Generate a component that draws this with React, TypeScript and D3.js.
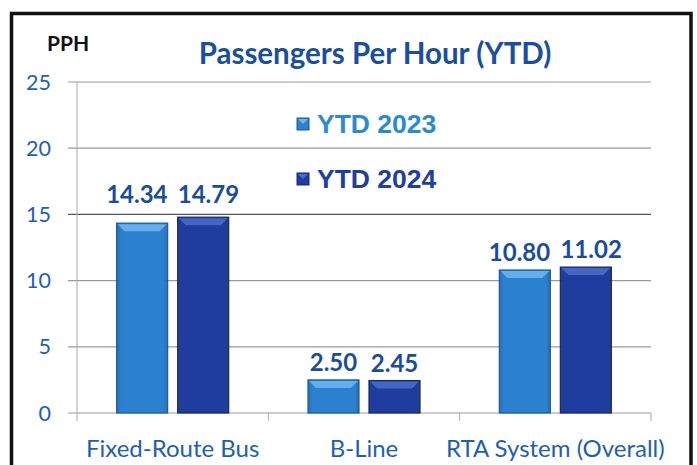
import React from "react";
import * as d3 from "d3";

const categories = ["Fixed-Route Bus", "B-Line", "RTA System (Overall)"];
const seriesNames = ["YTD 2023", "YTD 2024"];
const ytd2023 = [14.34, 2.5, 10.8];
const ytd2024 = [14.79, 2.45, 11.02];
const yTicks = [0, 5, 10, 15, 20, 25];

const W = 697;
const H = 465;
const FONT = "Lato, 'Open Sans', sans-serif";
const seriesColors = ["#2b80d0", "#1e3d9e"];
const seriesLight = ["#6fb6ee", "#4a6fc8"];
const seriesDark = ["#1a5c9f", "#122a72"];
const legendText = ["#2a8ad4", "#1f3ea0"];
const LABEL_SIZE = 24;

export default function App() {
  const y = d3.scaleLinear().domain([0, 25]).range([413, 82]);
  const x0 = d3.scaleBand<string>().domain(categories).range([77, 651]);
  const x1 = d3
    .scaleBand<string>()
    .domain(seriesNames)
    .range([0, x0.bandwidth()])
    .paddingInner(0.164)
    .paddingOuter(0.65);

  const series = [ytd2023, ytd2024];
  const gridVals = yTicks.filter((t) => t > 0);

  const labelBaseline = (v: number) => {
    const top = y(v);
    let b = top - 9;
    for (const g of gridVals) {
      const gy = y(g);
      if (gy > b - 18 && gy < top) b = gy - 11;
    }
    return b;
  };

  // push apart value labels that would touch within a group
  const labelShift = (ci: number, si: number) => {
    const step = x1.step();
    const widths = series.map((s) => s[ci].toFixed(2).length * LABEL_SIZE * 0.48);
    const need = (widths[0] + widths[1]) / 2 + 14;
    const extra = Math.max(0, need - step) / 2;
    return si === 0 ? -extra : extra;
  };

  return (
    <svg
      width={W}
      height={H}
      style={{ position: "fixed", left: 0, top: 0, background: "#fff" }}
    >
      <defs>
        {seriesColors.map((c, i) => (
          <linearGradient key={i} id={`g${i}`} x1="0" x2="1" y1="0" y2="0">
            <stop offset="0" stopColor={seriesDark[i]} stopOpacity={0.9} />
            <stop offset="0.08" stopColor={c} />
            <stop offset="0.92" stopColor={c} />
            <stop offset="1" stopColor={seriesDark[i]} stopOpacity={0.9} />
          </linearGradient>
        ))}
      </defs>
      <rect x={0} y={0} width={W} height={H} fill="#fff" />
      {/* frame */}
      <path
        d={`M11.5,${H} V13.5 H691 V${H}`}
        fill="none"
        stroke="#111"
        strokeWidth={3.5}
      />

      {/* gridlines */}
      {gridVals.map((t) => (
        <line
          key={t}
          x1={68}
          x2={651}
          y1={y(t)}
          y2={y(t)}
          stroke={t === 15 ? "#555" : "#9a9a9a"}
          strokeWidth={1.2}
        />
      ))}
      {/* axes */}
      <line x1={77} x2={77} y1={y(25)} y2={y(0)} stroke="#aaa" strokeWidth={1} />
      <line x1={68} x2={651} y1={y(0)} y2={y(0)} stroke="#999" strokeWidth={1.2} />
      {categories.map((c) => (
        <line
          key={c}
          x1={x0(c) as number}
          x2={x0(c) as number}
          y1={y(0)}
          y2={y(0) + 8}
          stroke="#aaa"
        />
      ))}
      <line x1={651} x2={651} y1={y(0)} y2={y(0) + 8} stroke="#aaa" />

      {yTicks.map((t) => (
        <text
          key={t}
          x={51}
          y={y(t) + 7.5}
          textAnchor="end"
          fontFamily={FONT}
          fontSize={21.5}
          fill="#1f5fb0"
        >
          {t}
        </text>
      ))}

      {/* bars */}
      {series.map((vals, si) =>
        vals.map((v, ci) => {
          const bx = (x0(categories[ci]) as number) + (x1(seriesNames[si]) as number);
          const bw = x1.bandwidth();
          const by = y(v);
          const bh = y(0) - by;
          const bev = Math.min(8, bh / 3);
          return (
            <g key={`${si}-${ci}`}>
              <rect
                x={bx}
                y={by}
                width={bw}
                height={bh}
                fill={`url(#g${si})`}
                stroke={seriesDark[si]}
                strokeWidth={1.2}
              />
              <polygon
                points={`${bx + 1},${by + 1} ${bx + bw - 1},${by + 1} ${bx + bw - bev},${by + bev} ${bx + bev},${by + bev}`}
                fill={seriesLight[si]}
                opacity={0.85}
              />
              <text
                x={bx + bw / 2 + labelShift(ci, si)}
                y={labelBaseline(v)}
                textAnchor="middle"
                fontFamily={FONT}
                fontWeight="bold"
                fontSize={LABEL_SIZE}
                fill="#1a4c9c"
              >
                {v.toFixed(2)}
              </text>
            </g>
          );
        })
      )}

      {/* category labels */}
      {categories.map((c) => (
        <text
          key={c}
          x={(x0(c) as number) + x0.bandwidth() / 2}
          y={457}
          textAnchor="middle"
          fontFamily={FONT}
          fontSize={24}
          fill="#1f5fb0"
        >
          {c}
        </text>
      ))}

      {/* title */}
      <text
        x={375}
        y={64}
        textAnchor="middle"
        fontFamily={FONT}
        fontWeight="bold"
        fontSize={29.5}
        fill="#1a4f9f"
      >
        Passengers Per Hour (YTD)
      </text>
      <text
        x={47}
        y={51}
        fontFamily={FONT}
        fontWeight="bold"
        fontSize={21}
        fill="#111"
      >
        PPH
      </text>

      {/* legend */}
      {seriesNames.map((s, i) => (
        <g key={s}>
          <rect
            x={297}
            y={118 + i * 55}
            width={12}
            height={12}
            fill={`url(#g${i})`}
            stroke={seriesDark[i]}
          />
          <polygon
            points={`${298},${119 + i * 55} ${308},${119 + i * 55} ${303},${124 + i * 55}`}
            fill={seriesLight[i]}
          />
          <text
            x={317}
            y={133 + i * 55}
            fontFamily="'Liberation Sans', Arial, sans-serif"
            fontWeight="bold"
            fontSize={26.5}
            fill={legendText[i]}
          >
            {s}
          </text>
        </g>
      ))}
    </svg>
  );
}
